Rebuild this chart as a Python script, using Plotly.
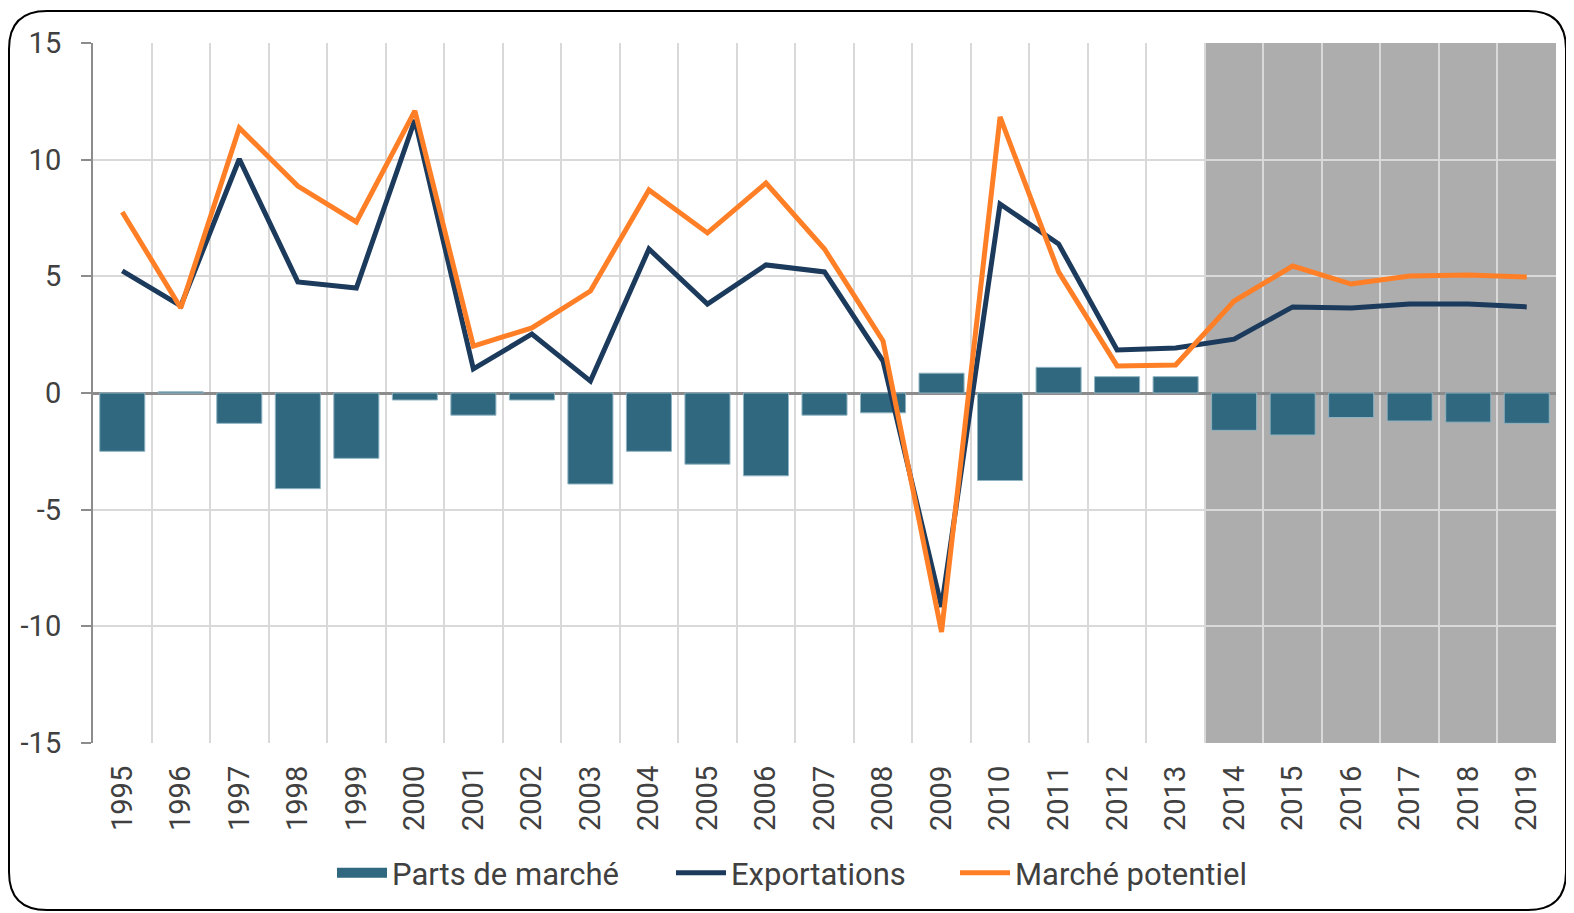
import plotly.graph_objects as go

years = [str(y) for y in range(1995, 2020)]
parts_de_marche = [-2.5, 0.05, -1.3, -4.1, -2.8, -0.3, -0.95, -0.3, -3.9, -2.5,
                   -3.05, -3.55, -0.95, -0.85, 0.85, -3.75, 1.1, 0.7, 0.7,
                   -1.6, -1.8, -1.05, -1.2, -1.25, -1.3]
exportations = [5.23, 3.73, 10.03, 4.76, 4.5, 11.7, 1.03, 2.53, 0.51, 6.17,
                3.81, 5.49, 5.19, 1.37, -9.17, 8.1, 6.39, 1.84, 1.93,
                2.31, 3.69, 3.64, 3.81, 3.81, 3.69]
marche_potentiel = [7.76, 3.64, 11.36, 8.87, 7.33, 12.09, 2.01, 2.79, 4.37, 8.7,
                    6.86, 9.0, 6.17, 2.23, -10.24, 11.83, 5.19, 1.16, 1.2,
                    3.94, 5.44, 4.67, 5.01, 5.06, 4.97]
forecast_start, forecast_end = "2014", "2019"
y_ticks = [-15, -10, -5, 0, 5, 10, 15]
y_tick_text = ["-15", "-10", "-5", "0", "5", "10", "15"]

# the page body has an 8px margin, so the figure is drawn 8px in from the window edge
W, H = 1566, 905
ML, MR, MT, MB = 85, 18, 35, 170
PW, PH = W - ML - MR, H - MT - MB

BAR_COLOR = "#2f687f"
TEXT = "#404040"

fig = go.Figure()
fig.add_trace(go.Bar(x=years, y=parts_de_marche, name="Parts de marché",
                     marker=dict(color=BAR_COLOR, line=dict(color="#8fb3c2", width=1)),
                     width=0.77, showlegend=False))
fig.add_trace(go.Scatter(x=[None], y=[None], name="Parts de marché", mode="lines",
                         line=dict(color=BAR_COLOR, width=16), legend="legend"))
fig.add_trace(go.Scatter(x=years, y=exportations, name="Exportations", mode="lines",
                         line=dict(color="#1b3a5c", width=5), legend="legend2"))
fig.add_trace(go.Scatter(x=years, y=marche_potentiel, name="Marché potentiel", mode="lines",
                         line=dict(color="#ff7f27", width=5), legend="legend3"))

i0 = years.index(forecast_start) - 0.5
i1 = years.index(forecast_end) + 0.5
fig.add_shape(type="rect", xref="x", yref="y", x0=i0, x1=i1, y0=-15, y1=15,
              fillcolor="#adadad", line=dict(width=0), layer="below")

def px(X):
    return (X - ML) / PW
def py(Y):
    return (H - MB - Y) / PH
x0, x1, y0, y1, r = 1, 1558, 3, 902, 38
path = (f"M {px(x0 + r)},{py(y0)} L {px(x1 - r)},{py(y0)} "
        f"Q {px(x1)},{py(y0)} {px(x1)},{py(y0 + r)} L {px(x1)},{py(y1 - r)} "
        f"Q {px(x1)},{py(y1)} {px(x1 - r)},{py(y1)} L {px(x0 + r)},{py(y1)} "
        f"Q {px(x0)},{py(y1)} {px(x0)},{py(y1 - r)} L {px(x0)},{py(y0 + r)} "
        f"Q {px(x0)},{py(y0)} {px(x0 + r)},{py(y0)} Z")
fig.add_shape(type="path", xref="paper", yref="paper", path=path,
              line=dict(color="black", width=2), layer="above")

def legend_at(xpix):
    return dict(orientation="h", xref="container", yref="container",
                x=xpix / W, xanchor="left", y=1 - 865 / H, yanchor="middle",
                font=dict(size=31, family="Roboto", color=TEXT),
                itemwidth=50, bgcolor="rgba(0,0,0,0)", borderwidth=0)

fig.update_layout(
    width=W, height=H,
    margin=dict(l=ML, r=MR, t=MT, b=MB, pad=0, autoexpand=False),
    plot_bgcolor="white", paper_bgcolor="white",
    font=dict(family="Roboto", color=TEXT),
    showlegend=True,
    legend=legend_at(324), legend2=legend_at(663), legend3=legend_at(947),
    bargap=0.23,
)
fig.update_xaxes(type="category", tickson="boundaries", showgrid=True,
                 gridcolor="#d9d9d9", gridwidth=2, ticks="", tickangle=-90,
                 tickfont=dict(size=29, color=TEXT), showline=False, ticklabelstandoff=16,
                 range=[-0.5, len(years) - 0.5], automargin=False)
fig.update_yaxes(range=[-15, 15], tickvals=y_ticks, ticktext=y_tick_text,
                 showgrid=True, gridcolor="#d9d9d9",
                 gridwidth=2, zeroline=True, zerolinecolor="#8c8c8c", zerolinewidth=3,
                 showline=True, linecolor="#8c8c8c", linewidth=2, ticks="outside",
                 ticklen=10, tickcolor="#8c8c8c", tickwidth=2, automargin=False,
                 ticklabelstandoff=14, tickfont=dict(size=29, color=TEXT))

fig.write_html("out.html")
